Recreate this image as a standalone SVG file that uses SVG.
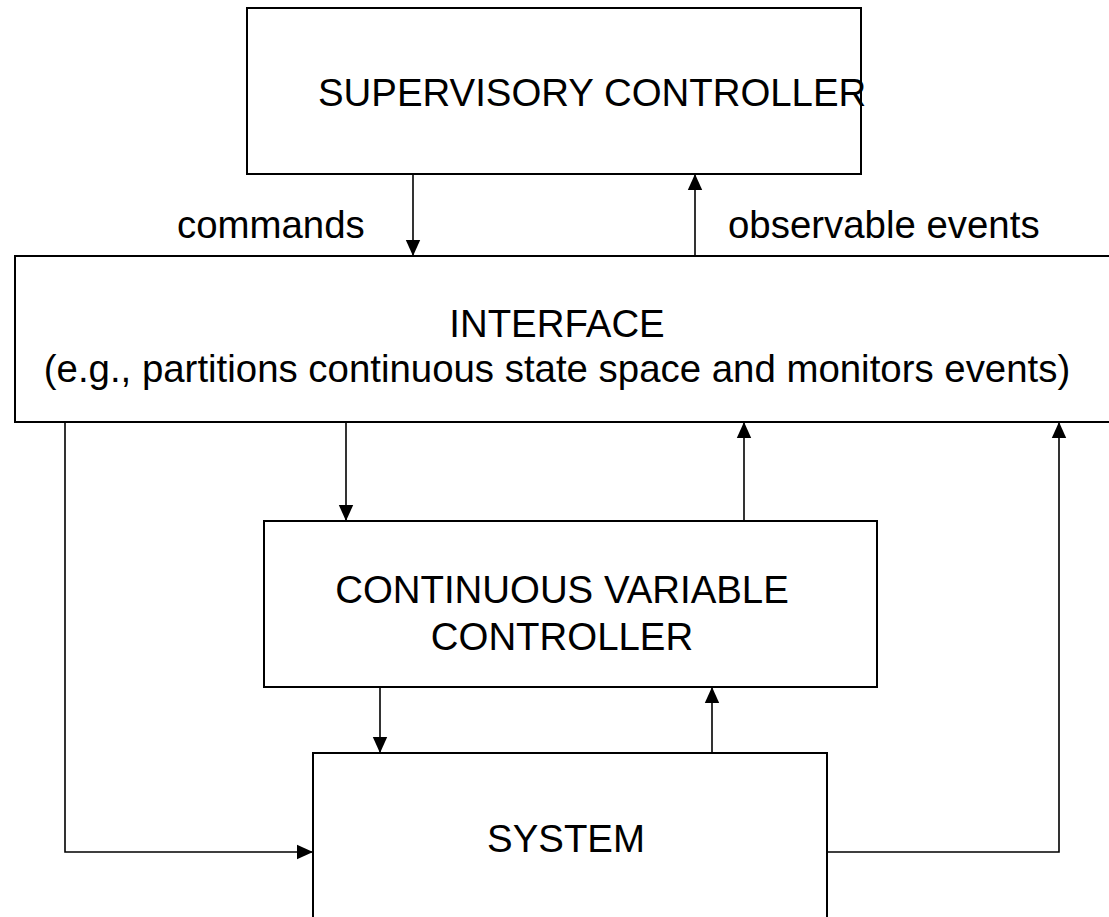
<svg xmlns="http://www.w3.org/2000/svg" width="1109" height="917" viewBox="0 0 1109 917">
  <style>
    .box { fill: #ffffff; stroke: #000000; stroke-width: 2; }
    .lbl { font-family: "Liberation Sans", Arial, sans-serif; font-size: 38.4px; fill: #000000; }
    .mid { text-anchor: middle; }
    .conn { fill: none; stroke: #000000; stroke-width: 1.6; marker-end: url(#ah); }
  </style>
  <defs>
    <marker id="ah" markerWidth="16" markerHeight="16" refX="16" refY="8" orient="auto" markerUnits="userSpaceOnUse" viewBox="0 0 16 16">
      <path d="M0,0.8 L16,8 L0,15.2 z" fill="#000000"/>
    </marker>
  </defs>
  <rect width="1109" height="917" fill="#ffffff"/>

  <g id="supervisory-controller">
    <rect class="box" x="247" y="8" width="614" height="166"/>
    <text class="lbl" x="318" y="106">SUPERVISORY CONTROLLER</text>
  </g>

  <g id="interface">
    <rect class="box" x="15" y="256" width="1100" height="166"/>
    <text class="lbl mid" x="557" y="337">INTERFACE</text>
    <text class="lbl mid" x="557" y="382">(e.g., partitions continuous state space and monitors events)</text>
  </g>

  <g id="continuous-variable-controller">
    <rect class="box" x="264" y="521" width="613" height="166"/>
    <text class="lbl mid" x="562" y="603">CONTINUOUS VARIABLE</text>
    <text class="lbl mid" x="562" y="650">CONTROLLER</text>
  </g>

  <g id="system">
    <rect class="box" x="313" y="753" width="514" height="180"/>
    <text class="lbl mid" x="566" y="852">SYSTEM</text>
  </g>

  <g id="connectors">
    <path class="conn" d="M413,174 L413,256"/>
    <path class="conn" d="M695,256 L695,174"/>
    <path class="conn" d="M346,422 L346,521"/>
    <path class="conn" d="M744,521 L744,422"/>
    <path class="conn" d="M380,687 L380,753"/>
    <path class="conn" d="M712,753 L712,687"/>
    <path class="conn" d="M65,422 L65,852 L313,852"/>
    <path class="conn" d="M827,852 L1059,852 L1059,422"/>
  </g>

  <g id="labels">
    <text class="lbl" x="177" y="238">commands</text>
    <text class="lbl" x="728" y="238">observable events</text>
  </g>
</svg>
